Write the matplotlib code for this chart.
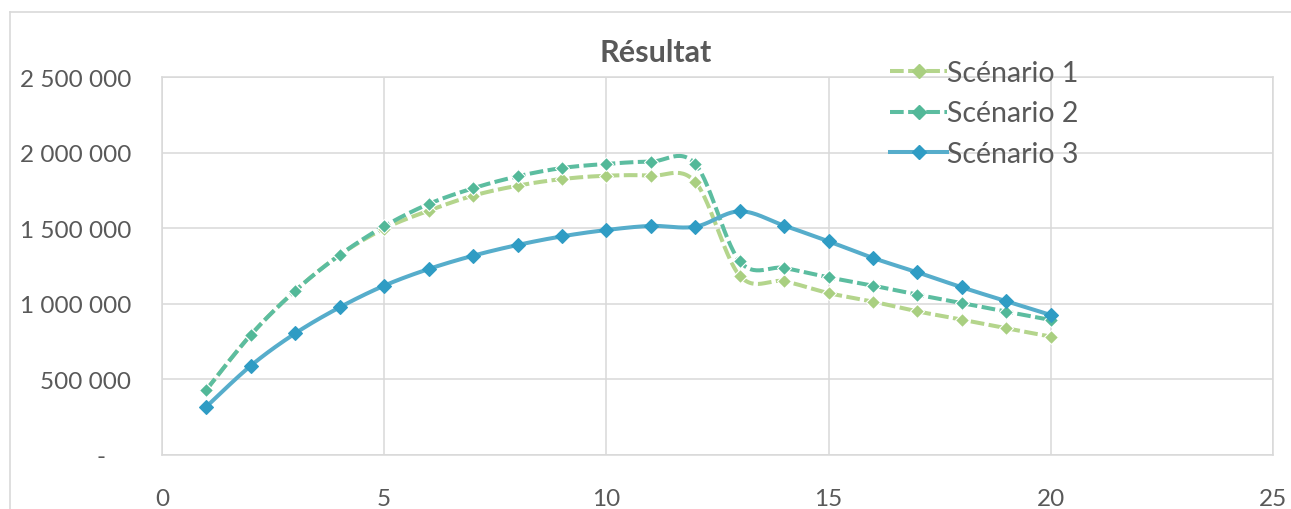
import numpy as np
import matplotlib.pyplot as plt
from matplotlib.lines import Line2D
from matplotlib.ticker import FuncFormatter

plt.rcParams['font.family'] = ['Lato', 'DejaVu Sans']

# Données des trois scénarios (années 1 à 20)
annees = list(range(1, 21))
scenario_1 = [432000, 795000, 1087000, 1323000, 1497000, 1616000, 1715000, 1781000, 1825000, 1847000,
              1847000, 1806000, 1186000, 1149000, 1071000, 1014000, 950000, 895000, 838000, 783000]
scenario_2 = [432000, 795000, 1087000, 1323000, 1513000, 1660000, 1764000, 1843000, 1898000, 1925000,
              1940000, 1925000, 1281000, 1237000, 1175000, 1120000, 1060000, 1005000, 948000, 893000]
scenario_3 = [320000, 591000, 805000, 977000, 1120000, 1230000, 1318000, 1389000, 1446000, 1488000,
              1515000, 1510000, 1612000, 1517000, 1413000, 1303000, 1208000, 1109000, 1017000, 926000]
noms = ['Scénario 1', 'Scénario 2', 'Scénario 3']

couleurs = ['#B4D58C', '#5CBDA0', '#56ADCB']
couleurs_marq = ['#A9CF80', '#52B898', '#2F9CC4']
styles = [(0, (3.4, 1.1)), (0, (3.4, 1.1)), '-']
gris = '#595959'
grille = '#D9D9D9'


def lissage(x, y, n=30):
    # courbe lissée façon tableur : Bézier cubiques passant par chaque point
    x = np.asarray(x, float)
    y = np.asarray(y, float)
    px = np.concatenate([[x[0]], x, [x[-1]]])
    py = np.concatenate([[y[0]], y, [y[-1]]])
    t = np.linspace(0, 1, n)[:, None]
    xs, ys = [], []
    for i in range(1, len(px) - 2):
        p0 = np.array([px[i], py[i]])
        p3 = np.array([px[i + 1], py[i + 1]])
        c1 = p0 + (np.array([px[i + 1], py[i + 1]]) - np.array([px[i - 1], py[i - 1]])) / 6
        c2 = p3 - (np.array([px[i + 2], py[i + 2]]) - np.array([px[i], py[i]])) / 6
        b = (1 - t) ** 3 * p0 + 3 * (1 - t) ** 2 * t * c1 + 3 * (1 - t) * t ** 2 * c2 + t ** 3 * p3
        xs.append(b[:, 0])
        ys.append(b[:, 1])
    return np.concatenate(xs), np.concatenate(ys)


fig = plt.figure(figsize=(12.91, 5.10), dpi=100)
ax = fig.add_axes([162 / 1291, 54 / 510, 1111 / 1291, 378 / 510])

poignees = []
for serie, nom, c, cm, ls in zip([scenario_1, scenario_2, scenario_3], noms, couleurs, couleurs_marq, styles):
    xs, ys = lissage(annees, serie)
    ax.plot(xs, ys, color=c, lw=2.9, ls=ls, solid_capstyle='butt', dash_capstyle='butt', zorder=3)
    ax.plot(annees, serie, ls='none', marker='D', ms=7, color=cm, mec='white' if ls != '-' else cm,
            mew=0.8, zorder=4)
    poignees.append(Line2D([], [], color=c, lw=2.9, ls=ls, marker='D', ms=7, mfc=cm, mec=cm))

ax.set_xlim(0, 25)
ax.set_ylim(0, 2500000)
ax.set_xticks(range(0, 26, 5))
ax.set_yticks(range(0, 2500001, 500000))


def format_fr(v, pos):
    if v == 0:
        return '-    '
    return f'{int(v):,}'.replace(',', ' ')


ax.yaxis.set_major_formatter(FuncFormatter(format_fr))
ax.grid(True, color=grille, lw=1.1)
ax.set_axisbelow(True)
for s in ax.spines.values():
    s.set_color(grille)
    s.set_linewidth(1.1)
ax.tick_params(length=0, labelsize=17.5, labelcolor=gris)
ax.tick_params(axis='x', pad=24)
ax.tick_params(axis='y', pad=22)

fig.text(656 / 1291, 1 - 53 / 510, 'Résultat', ha='center', va='center',
         fontsize=22, fontweight='bold', color=gris)

fig.legend(poignees, noms, loc='upper left', bbox_to_anchor=(876 / 1291, 1 - 47 / 510),
           frameon=False, fontsize=20.5, labelcolor=gris, handlelength=2.0, handletextpad=0.0,
           labelspacing=0.5, borderpad=0)

# cadre de la zone de graphique
fig.add_artist(Line2D([10 / 1291, 10 / 1291], [0, 1 - 13 / 510], color=grille, lw=1.2))
fig.add_artist(Line2D([10 / 1291, 1], [1 - 13 / 510, 1 - 13 / 510], color=grille, lw=1.2))

fig.savefig('out.png', dpi=100)
